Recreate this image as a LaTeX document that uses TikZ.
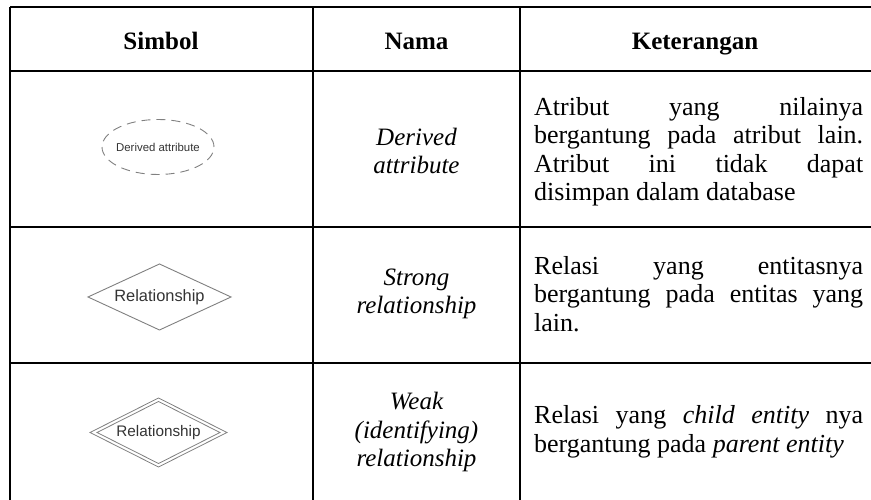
\documentclass[tikz,border=0pt]{standalone}
\usepackage{fontspec}
\setmainfont{Liberation Serif}
\newfontfamily\shapefont{Liberation Sans}
\definecolor{shapegray}{HTML}{808080}
\definecolor{labelgray}{HTML}{333333}
\hyphenpenalty=10000
\exhyphenpenalty=10000
\frenchspacing
\begin{document}
\begin{tikzpicture}[x=1pt,y=1pt,
  rule/.style={line width=2pt,black},
  vrule/.style={line width=1.6pt,black},
  head/.style={font=\fontsize{25}{28}\selectfont\bfseries,anchor=base},
  nama/.style={font=\fontsize{25}{28.5}\selectfont\itshape,align=center,anchor=center},
  ket/.style={font=\fontsize{26}{28.5}\selectfont,text width=329pt,align=justify,inner sep=0pt,anchor=west},
  shp/.style={draw=shapegray,line width=0.9pt},
  lbl/.style={text=labelgray,inner sep=0pt}
]
\useasboundingbox (0,0) rectangle (871,500);
% grid
\foreach \y in {493,429,273,137} \draw[rule] (10,\y) -- (871,\y);
\foreach \x in {10,313,520} \draw[vrule] (\x,493) -- (\x,0);
% headers
\node[head] (h1) at (161,450) {Simbol};
\node[head] (h2) at (416.5,450) {Nama};
\node[head] (h3) at (695,450) {Keterangan};
% row 1
\draw[shp,dash pattern=on 9pt off 6pt] (158,353) ellipse [x radius=56, y radius=27.5];
\node[lbl,font=\shapefont\fontsize{11.4}{13}\selectfont] (s1) at (158,353) {Derived attribute};
\node[nama] (n1) at (416.5,349) {Derived\\attribute};
\node[ket] (k1) at (534,348) {Atribut yang nilainya\linebreak bergantung pada atribut lain.\linebreak Atribut ini tidak dapat\linebreak disimpan dalam database};
% row 2
\draw[shp] (88,203) -- (159.5,236) -- (231,203) -- (159.5,170) -- cycle;
\node[lbl,font=\shapefont\fontsize{16.4}{18}\selectfont] (s2) at (159.5,203) {Relationship};
\node[nama] (n2) at (416.5,206) {Strong\\relationship};
\node[ket] (k2) at (534,206) {Relasi yang entitasnya\linebreak bergantung pada entitas yang\linebreak lain.};
% row 3
\draw[shp,line width=0.8pt] (90,67.5) -- (158.5,102) -- (227,67.5) -- (158.5,33) -- cycle;
\draw[shp,line width=0.8pt] (97,67.5) -- (158.5,98.5) -- (220,67.5) -- (158.5,36.5) -- cycle;
\node[lbl,font=\shapefont\fontsize{15.3}{17}\selectfont] (s3) at (158.5,67.5) {Relationship};
\node[nama] (n3) at (416.5,68) {Weak\\(identifying)\\relationship};
\node[ket] (k3) at (534,68) {Relasi yang \textit{child entity} nya\linebreak bergantung pada \textit{parent entity}};
\end{tikzpicture}
\end{document}
